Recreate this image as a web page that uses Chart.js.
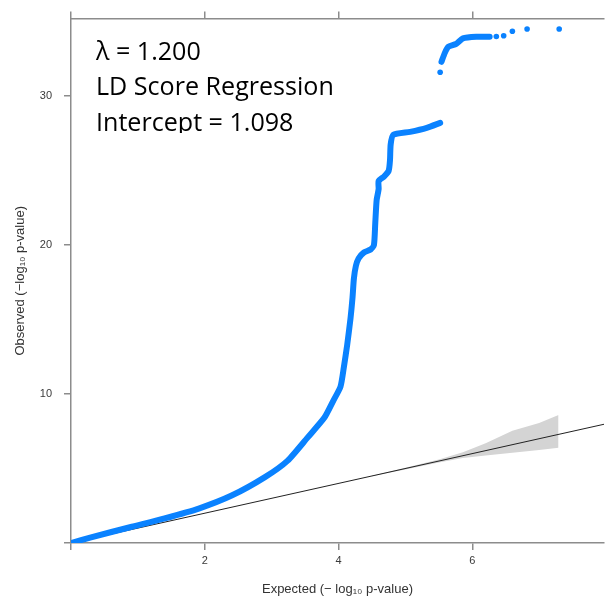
<!DOCTYPE html>
<html>
<head>
<meta charset="utf-8">
<script src="https://cdn.jsdelivr.net/npm/chart.js@4.4.1/dist/chart.umd.min.js"></script>
<style>
  html, body { margin: 0; padding: 0; background: #fff; }
  #wrap { width: 608px; height: 604px; }
</style>
</head>
<body>
<div id="wrap"><canvas id="qqChart" width="608" height="604"></canvas></div>
<script>
// observed vs expected -log10 p (dense part, null = break)
const qqExpected = [0, 0.3, 0.91, 1.4, 1.91, 2.41, 2.9, 3.24, 3.54, 3.79, 3.92, 4.03, 4.08, 4.13, 4.18, 4.21, 4.23, 4.26, 4.3, 4.38, 4.48, 4.53, 4.55, 4.57, 4.6, 4.6, 4.68, 4.75, 4.77, 4.78, 4.82, 5.07, 5.32, 5.52, null, 5.54, 5.59, 5.64, 5.76, 5.86, 6.06, 6.26];
const qqObserved = [0, 0.38, 1.09, 1.65, 2.31, 3.2, 4.42, 5.53, 7.09, 8.42, 9.53, 10.5, 11.8, 13.3, 15.1, 16.5, 17.75, 18.6, 19.1, 19.5, 19.7, 20.0, 21.5, 23.0, 23.75, 24.3, 24.6, 24.98, 25.7, 26.75, 27.4, 27.6, 27.87, 28.2, null, 32.3, 32.9, 33.3, 33.5, 33.87, 33.98, 33.98];

// isolated points at the top
const dotExpected = [5.52, 6.36, 6.47, 6.6, 6.82, 7.3];
const dotObserved = [31.6, 34.0, 34.05, 34.35, 34.5, 34.5];

// grey confidence band
const bandExpected = [4.5, 5.0, 5.5, 5.86, 6.2, 6.6, 7.0, 7.29];
const bandUpper = [4.52, 5.05, 5.6, 6.09, 6.7, 7.53, 8.05, 8.6];
const bandLower = [4.48, 4.93, 5.4, 5.7, 5.88, 6.06, 6.25, 6.4];

// y = x reference
const refExpected = [0, 8];
const refObserved = [0, 8];

const xTicks = [0, 2, 4, 6];
const yTicks = [0, 10, 20, 30];

const noteLines = ["\u03bb = 1.200", "LD Score Regression", "Intercept = 1.098"];

function toPoints(xs, ys) {
  return xs.map((x, i) => (x === null ? { x: null, y: null } : { x: x, y: ys[i] }));
}

const axisGrey = "#8c8c8c";
const tickFont = { family: "'Liberation Sans', Arial, sans-serif", size: 11 };
const titleFont = { family: "'Liberation Sans', Arial, sans-serif", size: 13 };

const notePlugin = {
  id: "notes",
  afterDraw(chart) {
    const ctx = chart.ctx;
    ctx.save();
    ctx.font = "100px 'Open Sans', 'Noto Sans', sans-serif";
    const w = ctx.measureText(noteLines[1]).width;
    const size = (100 * 238) / w;
    ctx.font = size + "px 'Open Sans', 'Noto Sans', sans-serif";
    ctx.fillStyle = "#000";
    ctx.textBaseline = "alphabetic";
    ctx.beginPath();
    ctx.rect(0, 0, 608, 133);
    ctx.clip();
    const baselines = [60, 95, 131];
    noteLines.forEach((t, i) => ctx.fillText(t, 96, baselines[i]));
    ctx.restore();
  },
};

const ctx = document.getElementById("qqChart").getContext("2d");
new Chart(ctx, {
  type: "scatter",
  data: {
    datasets: [
      {
        label: "dense",
        data: toPoints(qqExpected, qqObserved),
        showLine: true,
        spanGaps: false,
        borderColor: "#0a82ff",
        borderWidth: 6,
        borderCapStyle: "round",
        borderJoinStyle: "round",
        pointRadius: 0,
        tension: 0.2,
      },
      {
        label: "dots",
        data: toPoints(dotExpected, dotObserved),
        backgroundColor: "#0a82ff",
        borderWidth: 0,
        pointRadius: 2.8,
      },
      {
        label: "ref",
        data: toPoints(refExpected, refObserved),
        showLine: true,
        borderColor: "#222",
        borderWidth: 1,
        pointRadius: 0,
      },
      {
        label: "upper",
        data: toPoints(bandExpected, bandUpper),
        showLine: true,
        borderWidth: 0,
        pointRadius: 0,
        backgroundColor: "#d4d4d4",
        fill: "+1",
      },
      {
        label: "lower",
        data: toPoints(bandExpected, bandLower),
        showLine: true,
        borderWidth: 0,
        pointRadius: 0,
      },
    ],
  },
  options: {
    responsive: false,
    animation: false,
    layout: { padding: 0 },
    plugins: { legend: { display: false }, tooltip: { enabled: false } },
    scales: {
      x: {
        type: "linear",
        position: "bottom",
        min: 0,
        max: 7.97,
        afterBuildTicks: (s) => { s.ticks = xTicks.map((v) => ({ value: v })); },
        afterFit: (s) => { s.height = 61; },
        ticks: {
          callback: (v) => (v === 0 ? "" : v),
          font: tickFont,
          color: "#3a3a3a",
          padding: 4,
          maxRotation: 0,
        },
        grid: { drawOnChartArea: false, drawTicks: true, tickLength: 7, color: axisGrey, lineWidth: 1.5 },
        border: { display: true, color: axisGrey, width: 1.5 },
        title: {
          display: true,
          text: "Expected (\u2212 log\u2081\u2080 p-value)",
          font: titleFont,
          color: "#333",
          padding: { top: 4, bottom: 7 },
        },
      },
      x2: {
        type: "linear",
        position: "top",
        min: 0,
        max: 7.97,
        afterBuildTicks: (s) => { s.ticks = xTicks.map((v) => ({ value: v })); },
        afterFit: (s) => { s.height = 15; },
        ticks: { display: false },
        grid: { drawOnChartArea: false, drawTicks: true, tickLength: 7, color: axisGrey, lineWidth: 1.5 },
        border: { display: true, color: axisGrey, width: 1.5 },
      },
      y: {
        type: "linear",
        position: "left",
        min: 0,
        max: 35.2,
        afterBuildTicks: (s) => { s.ticks = yTicks.map((v) => ({ value: v })); },
        afterFit: (s) => { s.width = 71; },
        ticks: {
          callback: (v) => (v === 0 ? "" : v),
          font: tickFont,
          color: "#3a3a3a",
          padding: 12,
        },
        grid: { drawOnChartArea: false, drawTicks: true, tickLength: 7, color: axisGrey, lineWidth: 1.5 },
        border: { display: true, color: axisGrey, width: 1.5 },
        title: {
          display: true,
          text: "Observed (\u2212log\u2081\u2080 p-value)",
          font: titleFont,
          color: "#333",
          padding: { top: 13, bottom: 0 },
        },
      },
    },
  },
  plugins: [notePlugin],
});
</script>
</body>
</html>
